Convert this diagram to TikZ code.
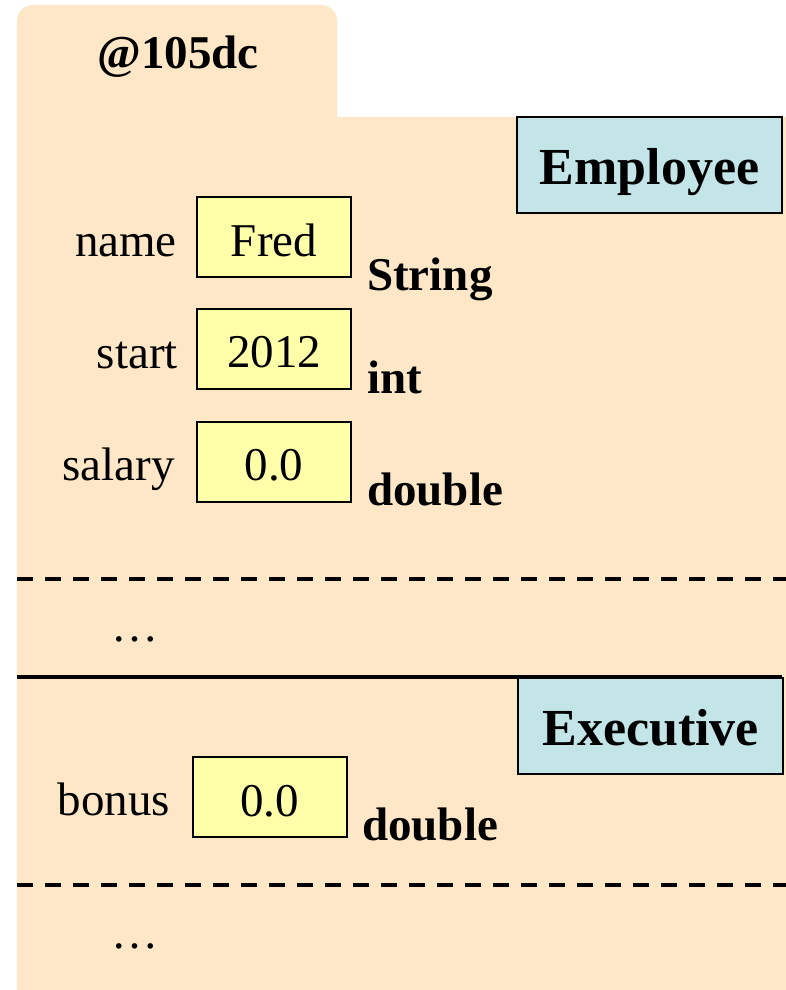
\documentclass[tikz,border=0pt]{standalone}
\usepackage{fontspec}
\setmainfont{Liberation Serif}
\definecolor{peach}{HTML}{FEE7C6}
\definecolor{fieldyellow}{HTML}{FFFFAA}
\definecolor{classblue}{HTML}{C3E5E8}
\begin{document}
\begin{tikzpicture}[x=1pt,y=-1pt,
  txt/.style={inner sep=0pt,font=\fontsize{47}{56}\selectfont},
  typetxt/.style={txt,font=\fontsize{47}{56}\selectfont\bfseries,anchor=base west},
  lbl/.style={txt,anchor=base east},
  valbox/.style={draw,line width=2pt,fill=fieldyellow,minimum width=154pt,minimum height=80pt,inner sep=0pt,text height=38pt,text depth=0pt,font=\fontsize{47}{56}\selectfont},
  classbox/.style={draw,line width=2.4pt,fill=classblue,minimum width=265pt,minimum height=96pt,inner sep=0pt,text height=38pt,text depth=0pt,font=\fontsize{52}{60}\selectfont\bfseries},
  sepdash/.style={line width=4pt,dash pattern=on 16pt off 12pt},
  sepsolid/.style={line width=4pt}]
\useasboundingbox (0,0) rectangle (786,990);
% background
\fill[peach,rounded corners=16pt] (17,5) rectangle (337,150);
\fill[peach] (17,117) rectangle (786,990);
% address
\node[txt,font=\fontsize{47}{56}\selectfont\bfseries,anchor=base] (addr) at (178,68) {@105dc};
% Employee part
\node[classbox] (emp) at (649.5,165) {Employee};
\node[valbox] (fred) at (274,237) {Fred};
\node[lbl] (lname) at (177,256) {name};
\node[typetxt] (tname) at (367,290) {String};
\node[valbox] (start) at (274,348.5) {2012};
\node[lbl] (lstart) at (178,368) {start};
\node[typetxt] (tstart) at (367,393) {int};
\node[valbox] (salary) at (274,461.5) {0.0};
\node[lbl] (lsalary) at (175,480) {salary};
\node[typetxt] (tsalary) at (367,505) {double};
\coordinate (d1l) at (17,579);
\coordinate (d1r) at (786,579);
\draw[sepdash] (d1l) -- (d1r);
\node[txt,anchor=base] (dots1) at (135,641) {…};
\coordinate (s1l) at (17,677);
\coordinate (s1r) at (782,677);
\draw[sepsolid] (s1l) -- (s1r);
% Executive part
\node[classbox,anchor=north west] (exe) at (517,677) {Executive};
\node[valbox] (bonus) at (269.5,797) {0.0};
\node[lbl] (lbonus) at (170,815) {bonus};
\node[typetxt] (tbonus) at (362,840) {double};
\coordinate (d2l) at (17,885);
\coordinate (d2r) at (786,885);
\draw[sepdash] (d2l) -- (d2r);
\node[txt,anchor=base] (dots2) at (135,948) {…};
\end{tikzpicture}
\end{document}
